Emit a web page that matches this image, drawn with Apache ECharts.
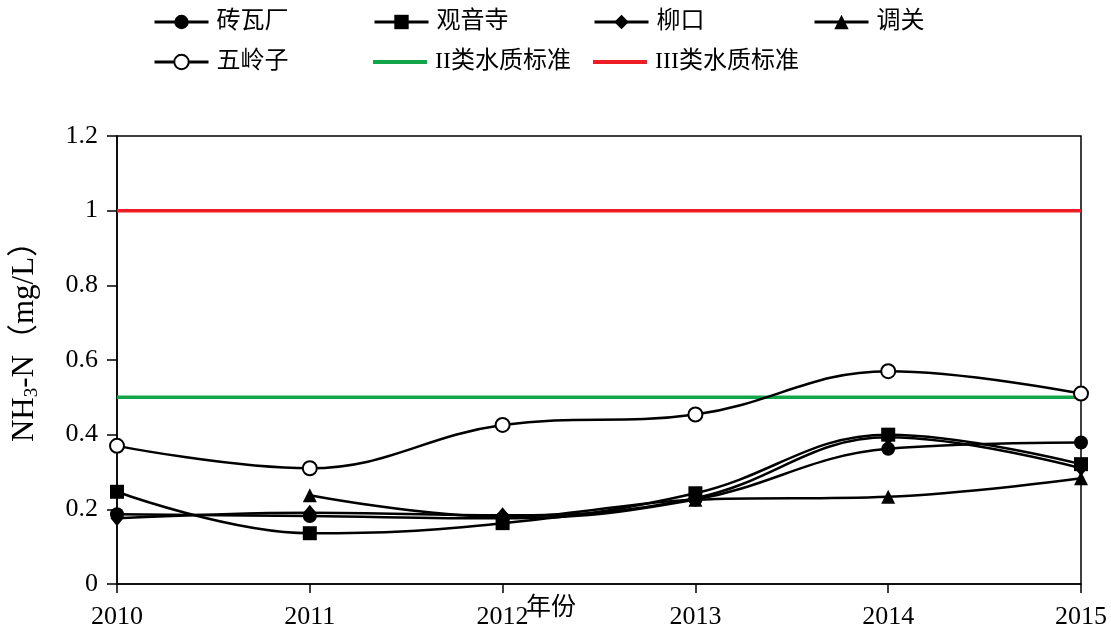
<!DOCTYPE html>
<html>
<head>
<meta charset="utf-8">
<script src="https://cdn.jsdelivr.net/npm/echarts@6/dist/echarts.min.js"></script>
<style>
  html, body { margin: 0; padding: 0; background: #fff; }
  #chart { width: 1111px; height: 628px; }
</style>
</head>
<body>
<div id="chart"></div>
<script>
// Years on the x axis
const years = ['2010', '2011', '2012', '2013', '2014', '2015'];

// NH3-N concentration (mg/L) at each monitoring site
const zhuwachang = [0.187, 0.182, 0.176, 0.226, 0.362, 0.379];
const guanyinsi  = [0.247, 0.136, 0.163, 0.243, 0.400, 0.321];
const liukou     = [0.176, 0.191, 0.184, 0.230, 0.393, 0.310];
const tiaoguan   = [null,  0.238, 0.180, 0.226, 0.234, 0.283];
const wulingzi   = [0.370, 0.310, 0.426, 0.454, 0.570, 0.510];

// Water-quality standard limits
const class2Limit = 0.5;
const class3Limit = 1.0;

const serif = '"Liberation Serif", "Times New Roman", "Noto Sans CJK SC", serif';
const diamondPath = 'path://M0,-1L1,0L0,1L-1,0Z';

const chart = echarts.init(document.getElementById('chart'));

function siteSeries(name, data, symbol, size) {
  return {
    name: name,
    type: 'line',
    data: data,
    smooth: 0.4,
    symbol: symbol,
    symbolSize: size,
    showAllSymbol: true,
    lineStyle: { color: '#000', width: 2.5 },
    itemStyle: { color: '#000', borderWidth: symbol === 'emptyCircle' ? 1.6 : 0 },
    z: 5
  };
}

function limitSeries(name, value, color) {
  return {
    name: name,
    type: 'line',
    data: years.map(() => value),
    symbol: 'none',
    lineStyle: { color: color, width: 3.5 },
    itemStyle: { color: color },
    z: 3
  };
}

// One legend box per entry so the entries line up in fixed columns
const legendSlots = [
  ['砖瓦厂', 153, 10, false],
  ['观音寺', 373, 10, false],
  ['柳口', 593, 10, false],
  ['调关', 813, 10, false],
  ['五岭子', 153, 50, false],
  ['II类水质标准', 373, 50, true],
  ['III类水质标准', 593, 50, true]
];

chart.setOption({
  backgroundColor: '#fff',
  animation: false,
  legend: legendSlots.map(([name, left, top, isLimit]) => ({
    data: isLimit ? [{ name: name, icon: 'rect' }] : [name],
    left: left,
    top: top,
    padding: 0,
    itemWidth: 54,
    itemHeight: isLimit ? 4 : 18,
    itemGap: 0,
    lineStyle: { width: 3 },
    textStyle: { fontFamily: serif, fontSize: 24, color: '#000', padding: [0, 0, 0, 3] }
  })),
  grid: {
    left: 117, right: 30, top: 136, bottom: 44,
    outerBoundsMode: 'none',
    containLabel: false,
    show: true, borderColor: '#000', borderWidth: 1.5
  },
  xAxis: {
    type: 'category',
    data: years,
    boundaryGap: false,
    axisLine: { lineStyle: { color: '#000', width: 1.5 } },
    axisTick: { alignWithLabel: true, length: 9, lineStyle: { color: '#000', width: 1.5 } },
    axisLabel: { fontFamily: serif, fontSize: 26, color: '#000', margin: 20 },
    splitLine: { show: false }
  },
  yAxis: {
    type: 'value',
    min: 0,
    max: 1.2,
    interval: 0.2,
    axisLine: { show: true, lineStyle: { color: '#000', width: 1.5 } },
    axisTick: { show: true, length: 10, lineStyle: { color: '#000', width: 1.5 } },
    axisLabel: { fontFamily: serif, fontSize: 26, color: '#000', margin: 19 },
    splitLine: { show: false }
  },
  graphic: [
    {
      // y axis title, read bottom to top
      type: 'text',
      x: 25,
      y: 334,
      rotation: Math.PI / 2,
      style: {
        text: '{a|NH}{s|3}{a|-N（mg/L）}',
        align: 'center',
        verticalAlign: 'middle',
        rich: {
          a: { fontFamily: serif, fontSize: 31, fill: '#000', color: '#000' },
          s: { fontFamily: serif, fontSize: 19, fill: '#000', color: '#000', verticalAlign: 'bottom', padding: [14, 0, 0, 0] }
        }
      }
    },
    {
      // x axis title
      type: 'text',
      left: 526,
      top: 596,
      style: { text: '年份', font: '25px ' + serif, fill: '#000' }
    }
  ],
  series: [
    siteSeries('砖瓦厂', zhuwachang, 'circle', 14),
    siteSeries('观音寺', guanyinsi, 'rect', 14),
    siteSeries('柳口', liukou, diamondPath, [13, 16]),
    siteSeries('调关', tiaoguan, 'triangle', 14),
    siteSeries('五岭子', wulingzi, 'emptyCircle', 14),
    limitSeries('II类水质标准', class2Limit, '#12a54a'),
    limitSeries('III类水质标准', class3Limit, '#ee1c24')
  ]
});
</script>
</body>
</html>
